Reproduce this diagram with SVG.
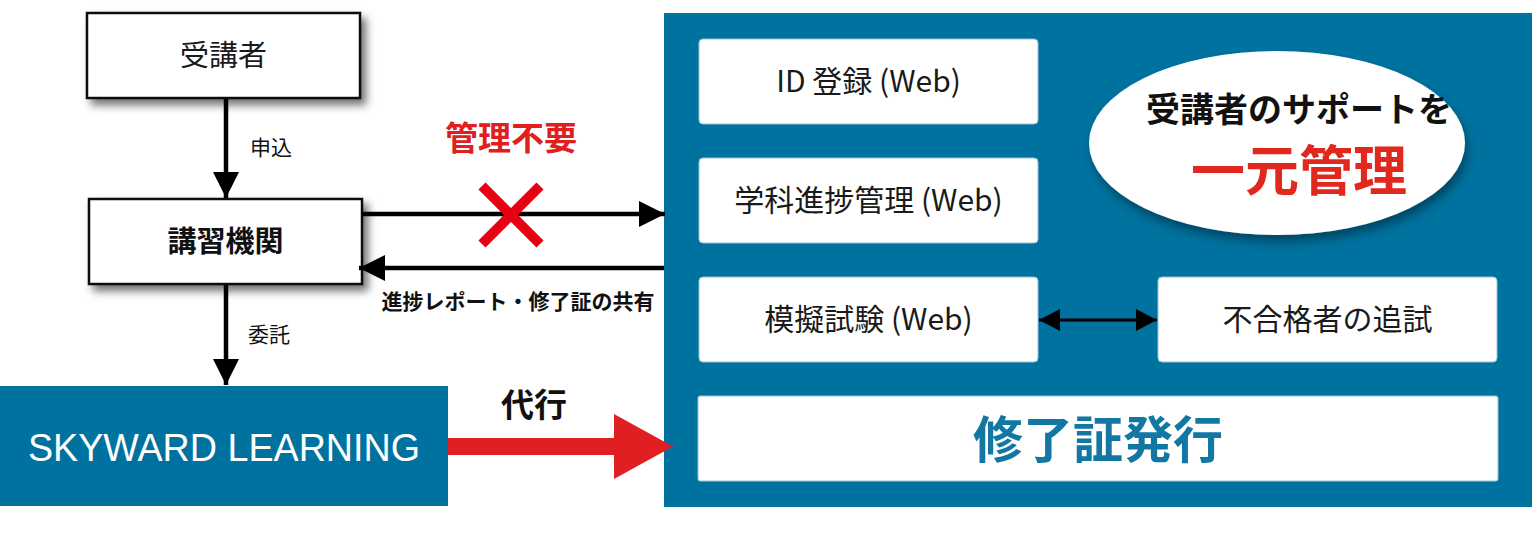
<svg xmlns="http://www.w3.org/2000/svg" width="1532" height="537" viewBox="0 0 1532 537">
<style>
.jp{font-family:"Noto Sans CJK JP","Noto Sans",sans-serif;}
.box{fill:#fff;stroke:#111;stroke-width:2.5;}
.wbox{fill:#fff;stroke:#9cc3d6;stroke-width:1;}
.blue{fill:#00729f;}
.t30{font-size:30px;fill:#1a1a1a;}
.conn{stroke:#000;stroke-width:4.5;fill:none;}
</style>
<defs>
<filter id="sh" x="-20%" y="-30%" width="150%" height="180%">
<feDropShadow dx="5" dy="6" stdDeviation="4" flood-color="#000" flood-opacity="0.55"/>
</filter>
<filter id="esh" x="-20%" y="-30%" width="150%" height="180%">
<feDropShadow dx="3" dy="7" stdDeviation="5" flood-color="#002c40" flood-opacity="0.6"/>
</filter>
<marker id="ah" markerUnits="userSpaceOnUse" markerWidth="28" markerHeight="28" refX="26" refY="13" orient="auto-start-reverse" viewBox="0 0 28 26">
<path d="M0,0 L26,13 L0,26 Z" fill="#000"/>
</marker>
<marker id="ah2" markerUnits="userSpaceOnUse" markerWidth="22" markerHeight="22" refX="21" refY="11" orient="auto-start-reverse" viewBox="0 0 22 22">
<path d="M0,0 L21,11 L0,22 Z" fill="#000"/>
</marker>
</defs>

<g id="panel">
<rect x="664" y="13" width="868" height="494" class="blue"/>
</g>

<g id="juko">
<rect x="87" y="13" width="273" height="85" class="box" filter="url(#sh)"/>
<text x="223.5" y="66" text-anchor="middle" class="jp" font-size="29" fill="#1a1a1a">受講者</text>
</g>

<g id="kikan">
<rect x="89" y="199" width="273" height="85" class="box" filter="url(#sh)"/>
<text x="225.5" y="252" text-anchor="middle" class="jp" font-size="29" font-weight="bold" fill="#111">講習機関</text>
</g>

<g id="skyward">
<rect x="0" y="386" width="448" height="120" class="blue"/>
<text x="224" y="461" text-anchor="middle" font-family="Liberation Sans, Arial, sans-serif" font-size="38" fill="#fff" textLength="392" lengthAdjust="spacingAndGlyphs">SKYWARD LEARNING</text>
</g>

<g id="ellipse">
<ellipse cx="1277" cy="143" rx="188" ry="92" fill="#fff" filter="url(#esh)"/>
<text x="1299" y="122" text-anchor="middle" class="jp" font-size="34" font-weight="bold" fill="#111">受講者のサポートを</text>
<text x="1299" y="191" text-anchor="middle" class="jp" font-size="54" font-weight="bold" fill="#e0281e">一元管理</text>
</g>

<g id="id-reg">
<rect x="699" y="39" width="339" height="85" rx="4" class="wbox"/>
<text x="868.5" y="92" text-anchor="middle" class="jp t30">ID 登録 (Web)</text>
</g>
<g id="progress">
<rect x="699" y="158" width="339" height="85" rx="4" class="wbox"/>
<text x="868.5" y="211" text-anchor="middle" class="jp t30">学科進捗管理 (Web)</text>
</g>
<g id="mock">
<rect x="699" y="277" width="339" height="85" rx="4" class="wbox"/>
<text x="868.5" y="330" text-anchor="middle" class="jp t30">模擬試験 (Web)</text>
</g>
<g id="retest">
<rect x="1158" y="277" width="339" height="85" rx="4" class="wbox"/>
<text x="1327.5" y="330" text-anchor="middle" class="jp t30">不合格者の追試</text>
</g>
<g id="cert">
<rect x="698" y="396" width="800" height="85" rx="2" class="wbox"/>
<text x="1098" y="458" text-anchor="middle" class="jp" font-size="50" font-weight="bold" fill="#1278a3">修了証発行</text>
</g>

<g id="connectors">
<line x1="226" y1="99" x2="226" y2="198" class="conn" marker-end="url(#ah)"/>
<line x1="226" y1="285" x2="226" y2="385" class="conn" marker-end="url(#ah)"/>
<line x1="362" y1="214" x2="665" y2="214" class="conn" marker-end="url(#ah)"/>
<line x1="664" y1="268" x2="359" y2="268" class="conn" marker-end="url(#ah)"/>
<line x1="1039" y1="320" x2="1157" y2="320" stroke="#000" stroke-width="3" marker-start="url(#ah2)" marker-end="url(#ah2)"/>
<path d="M448,438 H614 V414 L673,446.5 L614,479 V455 H448 Z" fill="#e01f22"/>
<path d="M482,186 L540,244 M540,186 L482,244" stroke="#e60012" stroke-width="10"/>
<text x="250" y="155" class="jp" font-size="21" fill="#111">申込</text>
<text x="248" y="342" class="jp" font-size="21" fill="#111">委託</text>
<text x="511" y="150" text-anchor="middle" class="jp" font-size="33" font-weight="bold" fill="#e0201e">管理不要</text>
<text x="518" y="309" text-anchor="middle" class="jp" font-size="21" font-weight="bold" fill="#111">進捗レポート・修了証の共有</text>
<text x="534" y="417" text-anchor="middle" class="jp" font-size="33" font-weight="bold" fill="#111">代行</text>
</g>
</svg>
